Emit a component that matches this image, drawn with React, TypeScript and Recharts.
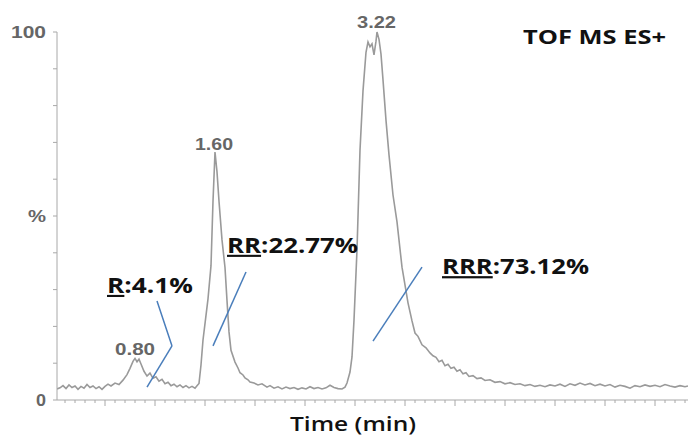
import React from 'react';
import { LineChart, Line, XAxis, YAxis, ReferenceLine, ReferenceDot } from 'recharts';

// Retention time (min)
const times = [
  0.02, 0.05, 0.08, 0.11, 0.14, 0.17, 0.2, 0.23, 0.26, 0.29, 0.32, 0.35, 0.38, 0.41, 0.44, 0.47, 0.5, 0.53, 0.56, 0.6, 0.64,
  0.68, 0.72, 0.75, 0.78, 0.8, 0.82, 0.84, 0.86, 0.89, 0.92, 0.95, 0.98, 1.01, 1.04, 1.07, 1.1, 1.13, 1.16, 1.19, 1.22, 1.25, 1.28, 1.31, 1.34, 1.37, 1.4, 1.42, 1.44,
  1.46, 1.48, 1.51, 1.53, 1.56, 1.58, 1.6, 1.62, 1.64, 1.67, 1.7, 1.72, 1.74, 1.76, 1.8, 1.83, 1.85, 1.88, 1.9, 1.93, 1.95, 1.99, 2.03, 2.07, 2.12,
  2.15, 2.19, 2.23, 2.27, 2.31, 2.35, 2.39, 2.43, 2.47, 2.51, 2.55, 2.59, 2.63, 2.67, 2.71, 2.75, 2.79, 2.83, 2.87, 2.9,
  2.92, 2.95, 2.97, 2.99, 3.02, 3.05, 3.08, 3.11, 3.13, 3.15, 3.17, 3.19, 3.21, 3.22, 3.24, 3.26, 3.28, 3.31, 3.34, 3.38, 3.42, 3.47, 3.53, 3.57, 3.6, 3.63, 3.67, 3.71, 3.75, 3.78, 3.81, 3.84, 3.87, 3.9, 3.93, 3.96, 3.99, 4.02, 4.05, 4.08, 4.11, 4.14, 4.18, 4.22, 4.26, 4.3, 4.35, 4.4, 4.45, 4.5, 4.55, 4.6, 4.65, 4.7, 4.75, 4.8,
  4.85, 4.9, 4.95, 5.0, 5.05, 5.1, 5.15, 5.2, 5.25, 5.3, 5.35, 5.4, 5.45, 5.5, 5.55, 5.6, 5.65, 5.7, 5.75, 5.8, 5.85, 5.9, 5.95, 6.0, 6.05, 6.1, 6.15, 6.2, 6.25, 6.3, 6.33,
];

// Relative intensity (%)
const intensity = [
  3.0, 3.3, 3.9, 3.1, 4.1, 3.4, 3.8, 2.9, 3.7, 3.2, 4.2, 3.4, 3.8, 3.1, 3.6, 2.9, 3.7, 4.3, 3.8, 4.6, 4.2,
  5.4, 6.9, 8.6, 10.5, 11.3, 10.4, 11.1, 9.8, 7.8, 6.5, 7.3, 5.9, 6.3, 5.1, 5.6, 4.4, 4.8, 3.9, 4.3, 3.6, 4.1, 3.4, 3.9, 3.3, 3.7, 3.2, 3.9, 4.5,
  9.5, 16.3, 23, 27.5, 36.5, 54, 67.4, 62, 54, 43.5, 36, 27, 18.5, 13.5, 10.3, 8.7, 7.4, 6.8, 6.0, 5.5, 4.9, 4.6, 4.1, 4.4, 3.5,
  3.9, 3.2, 3.6, 3.0, 3.5, 3.1, 3.4, 2.9, 3.3, 3.0, 3.6, 3.1, 3.4, 3.0, 3.3, 4.0, 3.4, 3.1, 3.0, 3.5,
  4.6, 7.6, 11.7, 21.7, 40.8, 67.9, 84, 94.5, 97.3, 96, 96.8, 93.8, 97.5, 100, 98, 94, 87, 76, 66.6, 55.7, 48.4, 36.1, 26.4, 21.5, 18.2, 17.3, 15.0, 14.2, 12.8, 12.0, 11.6, 10.4, 10.8, 9.3, 9.7, 8.6, 8.9, 7.8, 8.2, 7.1, 7.4, 6.4, 6.6, 5.8, 6.0, 5.3, 5.5, 4.8, 5.0, 4.4, 4.7, 4.2, 4.4, 3.9, 4.2, 3.7,
  4.0, 3.6, 4.1, 3.8, 4.3, 3.7, 4.4, 4.0, 4.6, 4.1, 4.5, 3.9, 4.3, 3.8, 4.2, 3.5, 4.0, 3.7, 3.2, 3.9, 3.6, 4.1, 3.7, 4.0, 3.6, 4.2, 3.8, 3.5, 3.9, 3.6, 3.8,
];

const data = times.map((t, i) => ({ t, v: intensity[i] }));

const xTicks = Array.from({ length: 63 }, (_, i) => Math.round((i + 1)) / 10);
const yTicks = [0, 10, 20, 30, 40, 50, 60, 70, 80, 90, 100];
const yTickLabels: Record<number, string> = { 0: '0', 50: '%', 100: '100' };
const yTickLens: Record<number, number> = { 0: 10, 50: 18, 100: 35 };

// Peak labels: [time, intensity, text, width]
const peakLabels: [number, number, string, number][] = [
  [0.6, 12.2, '0.80', 40],
  [1.4, 67.9, '1.60', 38],
  [3.02, 101.1, '3.22', 39],
];

// Percent annotations: [time, intensity, isomer, share, width]
const shareLabels: [number, number, string, string, number, number][] = [
  [0.52, 29.1, 'R', ':4.1%', 86, 21],
  [1.72, 40.0, 'RR', ':22.77%', 131, 21],
  [3.87, 34.2, 'RRR', ':73.12%', 147, 22],
];

// Pointer segments (time, intensity)
const pointers: [number, number, number, number][] = [
  [1.02, 26.9, 1.17, 14.7],
  [1.17, 14.7, 0.92, 3.5],
  [1.91, 34.8, 1.58, 14.7],
  [3.67, 36.1, 3.18, 16.0],
];

const XTick = (props: any) => {
  const { x, y, payload } = props;
  const v = payload.value;
  const major = Math.abs(v * 2 - Math.round(v * 2)) < 1e-6;
  return <line x1={x} x2={x} y1={y} y2={y + (major ? 6 : 3)} stroke="#a8a8a8" strokeWidth={1} />;
};

const YTick = (props: any) => {
  const { x, y, payload } = props;
  const label = yTickLabels[payload.value];
  if (!label) return null;
  return (
    <text
      x={x}
      y={y}
      textAnchor="end"
      dominantBaseline="central"
      fontFamily="Liberation Sans, Arial, sans-serif"
      fontWeight="bold"
      fontSize={17}
      fill="#666"
      textLength={yTickLens[payload.value]}
      lengthAdjust="spacingAndGlyphs"
    >
      {label}
    </text>
  );
};

export default function App() {
  return (
    <div style={{ position: 'absolute', left: 0, top: 0, background: '#fff' }}>
      <LineChart width={688} height={437} data={data} margin={{ top: 32, right: 0, bottom: 0, left: 0 }}>
        <XAxis
          dataKey="t"
          type="number"
          domain={[0.02, 6.33]}
          allowDataOverflow
          ticks={xTicks}
          tick={<XTick />}
          tickLine={false}
          tickSize={0}
          tickMargin={0}
          height={37}
          stroke="#a8a8a8"
          interval={0}
        />
        <YAxis
          type="number"
          domain={[0, 100]}
          ticks={yTicks}
          tick={<YTick />}
          tickSize={4}
          tickMargin={7}
          width={57}
          stroke="#a8a8a8"
          interval={0}
        />
        <Line
          type="linear"
          dataKey="v"
          stroke="#9a9a9a"
          strokeWidth={1.6}
          dot={false}
          isAnimationActive={false}
        />
        {pointers.map((p, i) => (
          <ReferenceLine
            key={'p' + i}
            segment={[{ x: p[0], y: p[1] }, { x: p[2], y: p[3] }]}
            stroke="#4a7ebb"
            strokeWidth={1.5}
            ifOverflow="visible"
          />
        ))}
        {peakLabels.map((p, i) => (
          <ReferenceDot
            key={'pk' + i}
            x={p[0]}
            y={p[1]}
            r={0}
            fill="none"
            stroke="none"
            ifOverflow="visible"
            label={(lp: any) => (
              <text
                x={lp.viewBox.x}
                y={lp.viewBox.y}
                fontFamily="Liberation Sans, Arial, sans-serif"
                fontWeight="bold"
                fontSize={16}
                fill="#666"
                textLength={p[3]}
                lengthAdjust="spacingAndGlyphs"
              >
                {p[2]}
              </text>
            )}
          />
        ))}
        {shareLabels.map((s, i) => (
          <ReferenceDot
            key={'s' + i}
            x={s[0]}
            y={s[1]}
            r={0}
            fill="none"
            stroke="none"
            ifOverflow="visible"
            label={(lp: any) => (
              <text
                x={lp.viewBox.x}
                y={lp.viewBox.y}
                fontFamily="Open Sans, sans-serif"
                fontWeight="bold"
                fontSize={s[5]}
                fill="#111"
                textLength={s[4]}
                lengthAdjust="spacingAndGlyphs"
              >
                <tspan style={{ textDecoration: 'underline' }}>{s[2]}</tspan>
                <tspan>{s[3]}</tspan>
              </text>
            )}
          />
        ))}
        <ReferenceDot
          x={4.68}
          y={96.7}
          r={0}
          fill="none"
          stroke="none"
          ifOverflow="visible"
          label={(lp: any) => (
            <text
              x={lp.viewBox.x}
              y={lp.viewBox.y}
              fontFamily="Open Sans, sans-serif"
              fontWeight="bold"
              fontSize={19}
              fill="#111"
              textLength={143}
              lengthAdjust="spacingAndGlyphs"
            >
              TOF MS ES+
            </text>
          )}
        />
        <ReferenceDot
          x={2.35}
          y={-8.4}
          r={0}
          fill="none"
          stroke="none"
          ifOverflow="visible"
          label={(lp: any) => (
            <text
              x={lp.viewBox.x}
              y={lp.viewBox.y}
              fontFamily="Open Sans, sans-serif"
              fontWeight={600}
              fontSize={20}
              fill="#111"
              textLength={126}
              lengthAdjust="spacingAndGlyphs"
            >
              Time (min)
            </text>
          )}
        />
      </LineChart>
    </div>
  );
}
